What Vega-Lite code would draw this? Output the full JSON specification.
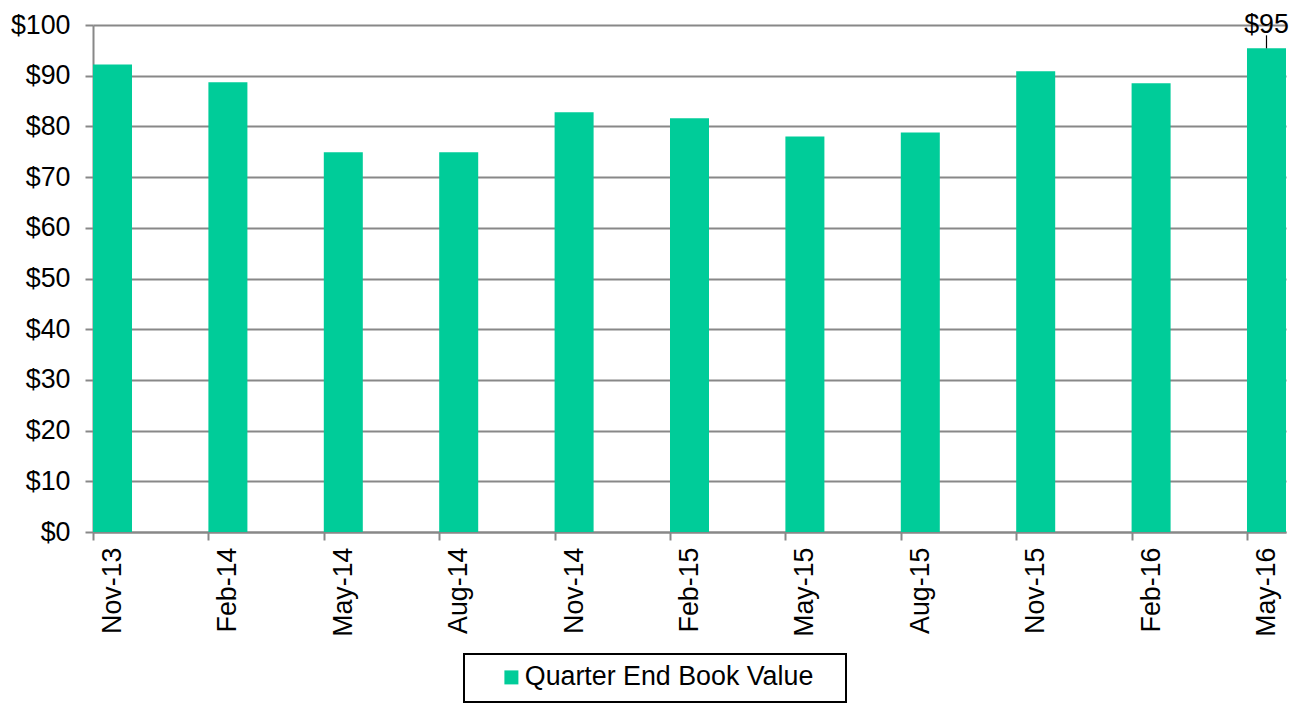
{
  "$schema": "https://vega.github.io/schema/vega-lite/v6.json",
  "width": 1193,
  "height": 507,
  "autosize": {"type": "none"},
  "padding": {"left": 93, "top": 25, "right": 8, "bottom": 171},
  "background": "white",
  "config": {
    "view": {"stroke": null},
    "font": "Liberation Sans"
  },
  "data": {
    "values": [
      {"date": "Nov-13", "value": 92.2, "series": "Quarter End Book Value"},
      {"date": "Feb-14", "value": 88.7, "series": "Quarter End Book Value"},
      {"date": "May-14", "value": 74.9, "series": "Quarter End Book Value"},
      {"date": "Aug-14", "value": 74.9, "series": "Quarter End Book Value"},
      {"date": "Nov-14", "value": 82.8, "series": "Quarter End Book Value"},
      {"date": "Feb-15", "value": 81.6, "series": "Quarter End Book Value"},
      {"date": "May-15", "value": 78.0, "series": "Quarter End Book Value"},
      {"date": "Aug-15", "value": 78.8, "series": "Quarter End Book Value"},
      {"date": "Nov-15", "value": 90.9, "series": "Quarter End Book Value"},
      {"date": "Feb-16", "value": 88.5, "series": "Quarter End Book Value"},
      {"date": "May-16", "value": 95.4, "series": "Quarter End Book Value", "label": "$95"}
    ]
  },
  "encoding": {
    "x": {
      "field": "date",
      "type": "nominal",
      "sort": null,
      "scale": {"paddingInner": 0.662, "paddingOuter": 0},
      "axis": {
        "title": null,
        "labelAngle": 270,
        "labelAlign": "right",
        "labelBaseline": "middle",
        "labelFontSize": 26.8,
        "labelColor": "black",
        "labelPadding": 7,
        "tickSize": 8,
        "tickOffset": -19.5,
        "labelOffset": 19.5,
        "tickColor": "#888888",
        "tickWidth": 2,
        "domainColor": "#888888",
        "domainWidth": 2,
        "grid": false
      }
    },
    "y": {
      "field": "value",
      "type": "quantitative",
      "scale": {"domain": [0, 100], "nice": false},
      "axis": {
        "title": null,
        "values": [0, 10, 20, 30, 40, 50, 60, 70, 80, 90, 100],
        "format": "$,.0f",
        "labelFontSize": 26.8,
        "labelColor": "black",
        "labelPadding": 15,
        "tickSize": 8,
        "tickColor": "#888888",
        "tickWidth": 2,
        "domainColor": "#888888",
        "domainWidth": 2,
        "grid": true,
        "gridColor": "#888888",
        "gridWidth": 2
      }
    }
  },
  "layer": [
    {
      "mark": {"type": "bar", "color": "#00CC99"},
      "encoding": {
        "color": {
          "field": "series",
          "type": "nominal",
          "scale": {"range": ["#00CC99"]},
          "legend": {
            "title": null,
            "orient": "none",
            "legendX": 371,
            "legendY": 629,
            "symbolType": "square",
            "symbolSize": 196,
            "symbolStrokeWidth": 0,
            "symbolOffset": 24,
            "labelFontSize": 26.8,
            "labelColor": "black",
            "labelOffset": 0,
            "labelLimit": 600,
            "labelExpr": "datum.label + '\u00a0\u00a0\u00a0\u200b'",
            "padding": 10,
            "strokeColor": "black",
            "fillColor": "white",
            "encode": {"legend": {"update": {"strokeWidth": {"value": 2}}}}
          }
        }
      }
    },
    {
      "transform": [{"filter": "datum.label != null"}],
      "mark": {"type": "rule", "color": "black", "strokeWidth": 1.2, "y2Offset": -13},
      "encoding": {
        "y2": {"field": "value"}
      }
    },
    {
      "transform": [{"filter": "datum.label != null"}],
      "mark": {"type": "text", "fontSize": 26.8, "color": "black", "baseline": "alphabetic", "dy": -15, "clip": false},
      "encoding": {
        "text": {"field": "label"}
      }
    }
  ]
}
